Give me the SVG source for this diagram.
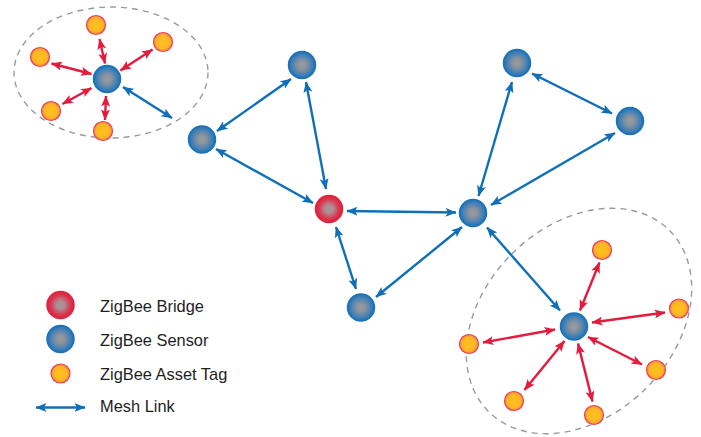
<svg xmlns="http://www.w3.org/2000/svg" width="701" height="437" viewBox="0 0 701 437">
<style>
.blue{stroke:#0f6fb9;stroke-width:2.4;fill:none;marker-start:url(#ab);marker-end:url(#ab)}
.red{stroke:#e31b3d;stroke-width:2.4;fill:none;marker-start:url(#ar);marker-end:url(#ar)}
.zone{fill:none;stroke:#9a9a9a;stroke-width:1.4;stroke-dasharray:6 5}
.sensor{fill:url(#gs);stroke:#1a73b9;stroke-width:1.5}
.bridge{fill:url(#gb);stroke:#e0233f;stroke-width:1.5}
.tag{fill:url(#gt);stroke:#ea4058;stroke-width:1.2}
.lbl{font-family:"Liberation Sans",Arial,sans-serif;font-size:16.4px;fill:#1e1e1e}
</style>
<defs>
<radialGradient id="gs" cx="50%" cy="50%" r="50%">
<stop offset="0" stop-color="#9b9b9b"/>
<stop offset="0.3" stop-color="#8c949e"/>
<stop offset="0.75" stop-color="#4480b4"/>
<stop offset="1" stop-color="#1a72b8"/>
</radialGradient>
<radialGradient id="gb" cx="50%" cy="50%" r="50%">
<stop offset="0" stop-color="#9b9b9b"/>
<stop offset="0.3" stop-color="#b28a92"/>
<stop offset="0.75" stop-color="#d9344e"/>
<stop offset="1" stop-color="#e2203d"/>
</radialGradient>
<radialGradient id="gt" cx="50%" cy="50%" r="50%">
<stop offset="0" stop-color="#ffc21e"/>
<stop offset="0.7" stop-color="#fdb624"/>
<stop offset="1" stop-color="#f58a3a"/>
</radialGradient>
<marker id="ab" viewBox="0 0 11 9" refX="10.5" refY="4.5" markerWidth="11" markerHeight="9" markerUnits="userSpaceOnUse" orient="auto-start-reverse">
<path d="M0,0 L11,4.5 L0,9 L2.5,4.5 z" fill="#0f6fb9"/>
</marker>
<marker id="ar" viewBox="0 0 11 9" refX="10.5" refY="4.5" markerWidth="11" markerHeight="9" markerUnits="userSpaceOnUse" orient="auto-start-reverse">
<path d="M0,0 L11,4.5 L0,9 L2.5,4.5 z" fill="#e31b3d"/>
</marker>
</defs>
<g id="zones">
<ellipse class="zone" cx="111" cy="72.5" rx="97" ry="65.5"/>
<ellipse class="zone" cx="579" cy="321" rx="128" ry="95" transform="rotate(-45 579 321)"/>
</g>
<g id="connectors">
<line class="blue" x1="123" y1="87" x2="172" y2="118"/>
<line class="blue" x1="217" y1="131" x2="291" y2="79"/>
<line class="blue" x1="216" y1="149" x2="313" y2="203"/>
<line class="blue" x1="306" y1="82" x2="326" y2="189"/>
<line class="blue" x1="347" y1="211" x2="456" y2="212.5"/>
<line class="blue" x1="336" y1="227" x2="356" y2="289"/>
<line class="blue" x1="376" y1="297" x2="462" y2="227"/>
<line class="blue" x1="478.5" y1="196" x2="512" y2="82"/>
<line class="blue" x1="491" y1="205" x2="615" y2="133"/>
<line class="blue" x1="532" y1="73.5" x2="612" y2="113.5"/>
<line class="blue" x1="487" y1="227.5" x2="560" y2="310.5"/>
<line class="red" x1="99.5" y1="39" x2="105" y2="63.5"/>
<line class="red" x1="152.5" y1="49.5" x2="120.5" y2="70.5"/>
<line class="red" x1="51.5" y1="63.5" x2="91.5" y2="74"/>
<line class="red" x1="62.5" y1="104" x2="91.5" y2="88"/>
<line class="red" x1="105" y1="120" x2="106" y2="96"/>
<line class="red" x1="599.5" y1="262.5" x2="580" y2="310.5"/>
<line class="red" x1="665" y1="312.5" x2="592" y2="322.5"/>
<line class="red" x1="483" y1="342.5" x2="555" y2="329.5"/>
<line class="red" x1="642" y1="364.5" x2="588" y2="337"/>
<line class="red" x1="524.5" y1="390" x2="564.5" y2="341"/>
<line class="red" x1="592.5" y1="401.5" x2="578" y2="343.5"/>
<line class="blue" x1="36" y1="407.5" x2="85" y2="407.5"/>
</g>
<g id="sensor-1"><circle class="sensor" cx="107" cy="79" r="13.5"/></g>
<g id="sensor-2"><circle class="sensor" cx="202" cy="139.5" r="13.5"/></g>
<g id="sensor-3"><circle class="sensor" cx="302" cy="65" r="13.5"/></g>
<g id="bridge"><circle class="bridge" cx="329" cy="209" r="13.5"/></g>
<g id="sensor-4"><circle class="sensor" cx="361" cy="307.5" r="13.5"/></g>
<g id="sensor-5"><circle class="sensor" cx="473" cy="213" r="13.5"/></g>
<g id="sensor-6"><circle class="sensor" cx="517" cy="63" r="13.5"/></g>
<g id="sensor-7"><circle class="sensor" cx="630" cy="121" r="13.5"/></g>
<g id="sensor-8"><circle class="sensor" cx="574" cy="326.5" r="13.5"/></g>
<g id="tag-1"><circle class="tag" cx="96" cy="25" r="9.5"/></g>
<g id="tag-2"><circle class="tag" cx="163" cy="42" r="9.5"/></g>
<g id="tag-3"><circle class="tag" cx="40" cy="57" r="9.5"/></g>
<g id="tag-4"><circle class="tag" cx="51" cy="111" r="9.5"/></g>
<g id="tag-5"><circle class="tag" cx="103" cy="131" r="9.5"/></g>
<g id="tag-6"><circle class="tag" cx="602" cy="250" r="9.5"/></g>
<g id="tag-7"><circle class="tag" cx="679" cy="308.5" r="9.5"/></g>
<g id="tag-8"><circle class="tag" cx="469" cy="344" r="9.5"/></g>
<g id="tag-9"><circle class="tag" cx="656" cy="370" r="9.5"/></g>
<g id="tag-10"><circle class="tag" cx="514" cy="401" r="9.5"/></g>
<g id="tag-11"><circle class="tag" cx="594" cy="415" r="9.5"/></g>
<g id="legend">
<circle class="bridge" cx="60.5" cy="305" r="13.5"/>
<circle class="sensor" cx="60.5" cy="339" r="13.5"/>
<circle class="tag" cx="60.5" cy="373.5" r="9.5"/>
<text class="lbl" x="100" y="311.5">ZigBee Bridge</text>
<text class="lbl" x="100" y="345.5">ZigBee Sensor</text>
<text class="lbl" x="100" y="380">ZigBee Asset Tag</text>
<text class="lbl" x="100" y="411.5">Mesh Link</text>
</g>
</svg>
